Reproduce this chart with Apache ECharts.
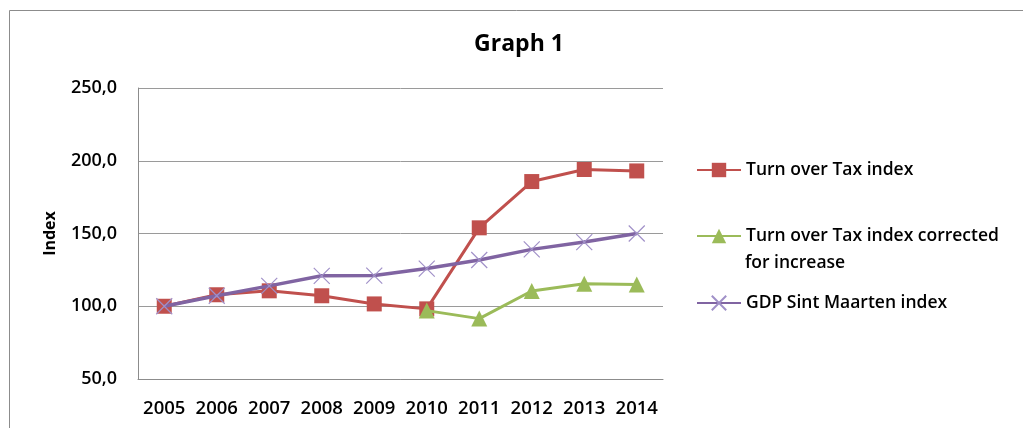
<!DOCTYPE html>
<html>
<head>
<meta charset="utf-8">
<script src="https://cdn.jsdelivr.net/npm/echarts@6/dist/echarts.min.js"></script>
<style>
  html, body { margin: 0; padding: 0; background: #fff; }
  #chart { width: 1023px; height: 428px; }
</style>
</head>
<body>
<div id="chart"></div>
<script>
// Categories and series values
const years = ['2005', '2006', '2007', '2008', '2009', '2010', '2011', '2012', '2013', '2014'];
const turnoverTax = [100.0, 107.9, 110.6, 107.2, 101.6, 98.2, 153.9, 185.7, 194.0, 193.0];
const turnoverCorrected = [null, null, null, null, null, 97.0, 91.5, 110.5, 115.5, 115.0];
const gdpIndex = [100.0, 107.2, 114.0, 120.9, 121.1, 125.9, 131.8, 139.1, 144.1, 150.0];

// Value axis ticks
const yMin = 50, yMax = 250, yStep = 50;

const seriesNames = [
  'Turn over Tax index',
  'Turn over Tax index corrected for increase',
  'GDP Sint Maarten index'
];

const FONT = '"Open Sans", "DejaVu Sans", sans-serif';
const crossPath = 'path://M0,0 L10,10 M10,0 L0,10';

const chart = echarts.init(document.getElementById('chart'), null, { renderer: 'canvas' });

const legendText = { fontFamily: FONT, fontSize: 17.5, fontWeight: 600, color: '#000', lineHeight: 20 };

const legendBase = {
  orient: 'vertical',
  left: 696,
  padding: 0,
  itemWidth: 44,
  itemHeight: 18,
  itemGap: 0,
  textStyle: legendText
};

chart.setOption({
  animation: false,
  backgroundColor: '#fff',
  title: {
    text: 'Graph 1',
    left: 519,
    textAlign: 'center',
    top: 33,
    padding: 0,
    textStyle: { fontFamily: FONT, fontSize: 23, fontWeight: 'bold', color: '#000' }
  },
  legend: [
    Object.assign({}, legendBase, { top: 160, data: [seriesNames[0]] }),
    Object.assign({}, legendBase, {
      top: 226,
      data: [seriesNames[1]],
      formatter: () => 'Turn over Tax index corrected'
    }),
    Object.assign({}, legendBase, { top: 293, data: [seriesNames[2]] })
  ],
  graphic: [
    {
      type: 'polyline',
      silent: true,
      shape: { points: [[9.5, 430], [9.5, 10.5], [1030, 10.5]] },
      style: { stroke: '#8c8c8c', lineWidth: 1, fill: null }
    },
    {
      type: 'text',
      left: 745,
      top: 253,
      silent: true,
      style: { text: 'for increase', fontFamily: FONT, fontSize: 17.5, fontWeight: 600, fill: '#000', lineHeight: 20 }
    }
  ],
  grid: { left: 138, right: 360, top: 88, bottom: 49, containLabel: false },
  xAxis: {
    type: 'category',
    data: years,
    boundaryGap: true,
    axisLine: { lineStyle: { color: '#8c8c8c', width: 1 } },
    axisTick: { show: false },
    axisLabel: { margin: 20, fontFamily: FONT, fontSize: 18.5, fontWeight: 600, color: '#000', interval: 0 }
  },
  yAxis: {
    type: 'value',
    min: yMin,
    max: yMax,
    interval: yStep,
    name: 'Index',
    nameLocation: 'middle',
    nameGap: 80,
    nameTextStyle: { fontFamily: FONT, fontSize: 16, fontWeight: 'bold', color: '#000' },
    axisLine: { show: true, lineStyle: { color: '#8c8c8c', width: 1 } },
    axisTick: { show: false },
    splitLine: { lineStyle: { color: '#9a9a9a', width: 1 } },
    axisLabel: {
      margin: 21,
      fontFamily: FONT,
      fontSize: 18,
      fontWeight: 600,
      color: '#000',
      formatter: v => v.toFixed(1).replace('.', ',')
    }
  },
  series: [
    {
      name: seriesNames[0],
      type: 'line',
      data: turnoverTax,
      symbol: 'rect',
      symbolSize: 15,
      lineStyle: { color: '#C0504D', width: 3 },
      itemStyle: { color: '#C0504D' },
      z: 2
    },
    {
      name: seriesNames[1],
      type: 'line',
      data: turnoverCorrected,
      connectNulls: false,
      symbol: 'triangle',
      symbolSize: 16,
      lineStyle: { color: '#9BBB59', width: 3 },
      itemStyle: { color: '#9BBB59' },
      z: 3
    },
    {
      name: seriesNames[2],
      type: 'line',
      data: gdpIndex,
      symbol: crossPath,
      symbolSize: 16,
      lineStyle: { color: '#8064A2', width: 3.5 },
      itemStyle: { color: 'rgba(0,0,0,0)', borderColor: '#a090c8', borderWidth: 1.2 },
      z: 4
    }
  ]
});
</script>
</body>
</html>
